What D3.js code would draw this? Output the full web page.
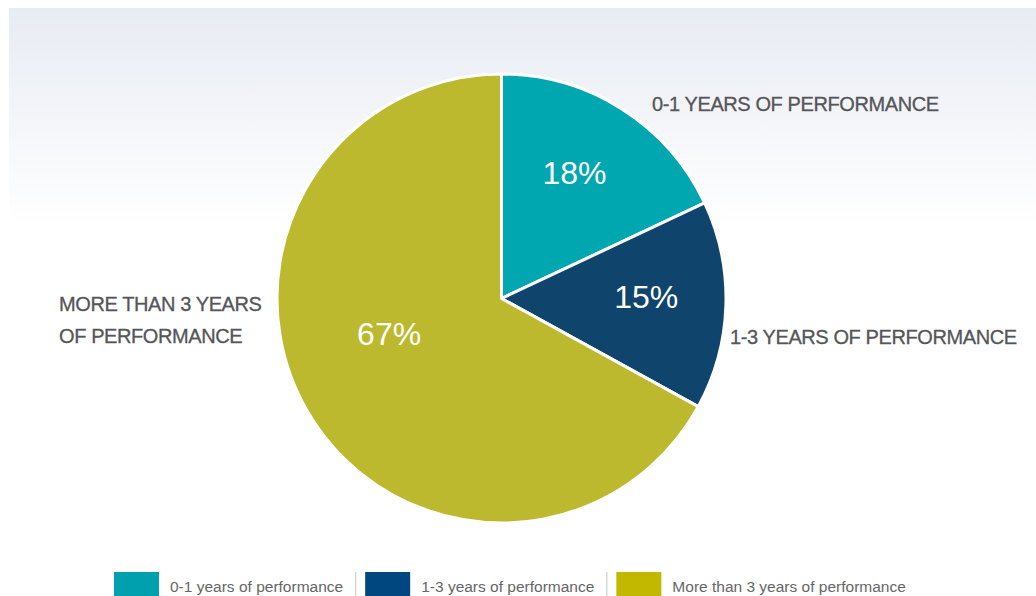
<!DOCTYPE html>
<html>
<head>
<meta charset="utf-8">
<script src="https://cdn.jsdelivr.net/npm/d3@7"></script>
<style>
  html, body { margin: 0; padding: 0; background: #fff; }
  svg { display: block; }
  text { font-family: "Liberation Sans", Arial, Helvetica, sans-serif; }
</style>
</head>
<body>
<svg id="chart" width="1036" height="596"></svg>
<script>
// Share of records by length of performance history
const categories = ["0-1 years of performance", "1-3 years of performance", "More than 3 years of performance"];
const outerLabels = [["0-1 YEARS OF PERFORMANCE"], ["1-3 YEARS OF PERFORMANCE"], ["MORE THAN 3 YEARS", "OF PERFORMANCE"]];
const shares = [18, 15, 67];
const sliceColors = ["#00a7b1", "#0f456c", "#bdb92f"];
const swatchColors = ["#00a0ae", "#00467f", "#c3b800"];

const svg = d3.select("#chart");
const W = 1036, H = 596;

// soft grey-blue wash at the top of the panel
const defs = svg.append("defs");
const grad = defs.append("linearGradient")
  .attr("id", "panelWash").attr("x1", 0).attr("y1", 0).attr("x2", 0).attr("y2", 1);
grad.append("stop").attr("offset", "0%").attr("stop-color", "#e7ebf3");
grad.append("stop").attr("offset", "100%").attr("stop-color", "#ffffff");
svg.append("rect").attr("x", 9).attr("y", 8).attr("width", W - 9).attr("height", 215)
  .attr("fill", "url(#panelWash)");

// pie
const cx = 501.5, cy = 298.5, R = 224.5;
const data = categories.map((c, i) => ({ name: c, value: shares[i], color: sliceColors[i] }));
const pie = d3.pie().value(d => d.value).sort(null);
const arcs = pie(data);
const arc = d3.arc().innerRadius(0).outerRadius(R);

const g = svg.append("g").attr("transform", `translate(${cx},${cy})`);
g.selectAll("path.slice").data(arcs).join("path")
  .attr("class", "slice")
  .attr("d", arc)
  .attr("fill", d => d.data.color)
  .attr("stroke", "#fff")
  .attr("stroke-width", 3)
  .attr("stroke-linejoin", "round");

// percentage labels inside slices: polar placement (angle in degrees clockwise from 12 o'clock, radius fraction)
const pctPlacement = [{ a: 30, r: 0.65 }, { a: 89, r: 0.645 }, { a: 252.5, r: 0.525 }];
g.selectAll("text.pct").data(arcs).join("text")
  .attr("class", "pct")
  .attr("x", (d, i) => Math.sin(pctPlacement[i].a * Math.PI / 180) * R * pctPlacement[i].r)
  .attr("y", (d, i) => -Math.cos(pctPlacement[i].a * Math.PI / 180) * R * pctPlacement[i].r)
  .attr("dy", "0.36em")
  .attr("text-anchor", "middle")
  .attr("fill", "#fff")
  .style("font-size", "32px")
  .text(d => d.data.value + "%");

// category captions around the pie
const captionPos = [
  { x: 652, y: 111 },
  { x: 730, y: 344 },
  { x: 59, y: 311 }
];
outerLabels.forEach((lines, i) => {
  const t = svg.append("text")
    .attr("x", captionPos[i].x).attr("y", captionPos[i].y)
    .attr("fill", "#555658")
    .attr("stroke", "#555658")
    .attr("stroke-width", 0.3)
    .style("font-size", "20px")
    .style("letter-spacing", "-0.4px");
  lines.forEach((ln, j) => {
    t.append("tspan").attr("x", captionPos[i].x).attr("dy", j === 0 ? 0 : 32).text(ln);
  });
});

// legend
const legendY = 572;
const legend = svg.append("g").attr("class", "legend");
let lx = 114;
categories.forEach((c, i) => {
  if (i > 0) {
    legend.append("line")
      .attr("x1", lx + 0.5).attr("x2", lx + 0.5)
      .attr("y1", legendY).attr("y2", legendY + 24)
      .attr("stroke", "#c8c8c8").attr("stroke-width", 1);
    lx += 10;
  }
  legend.append("rect").attr("x", lx).attr("y", legendY).attr("width", 45).attr("height", 24)
    .attr("fill", swatchColors[i]);
  lx += 45 + 11;
  const t = legend.append("text").attr("x", lx).attr("y", legendY + 20)
    .attr("fill", "#666")
    .style("font-size", "15.5px")
    .text(c);
  lx += t.node().getComputedTextLength() + 12;
});
</script>
</body>
</html>
